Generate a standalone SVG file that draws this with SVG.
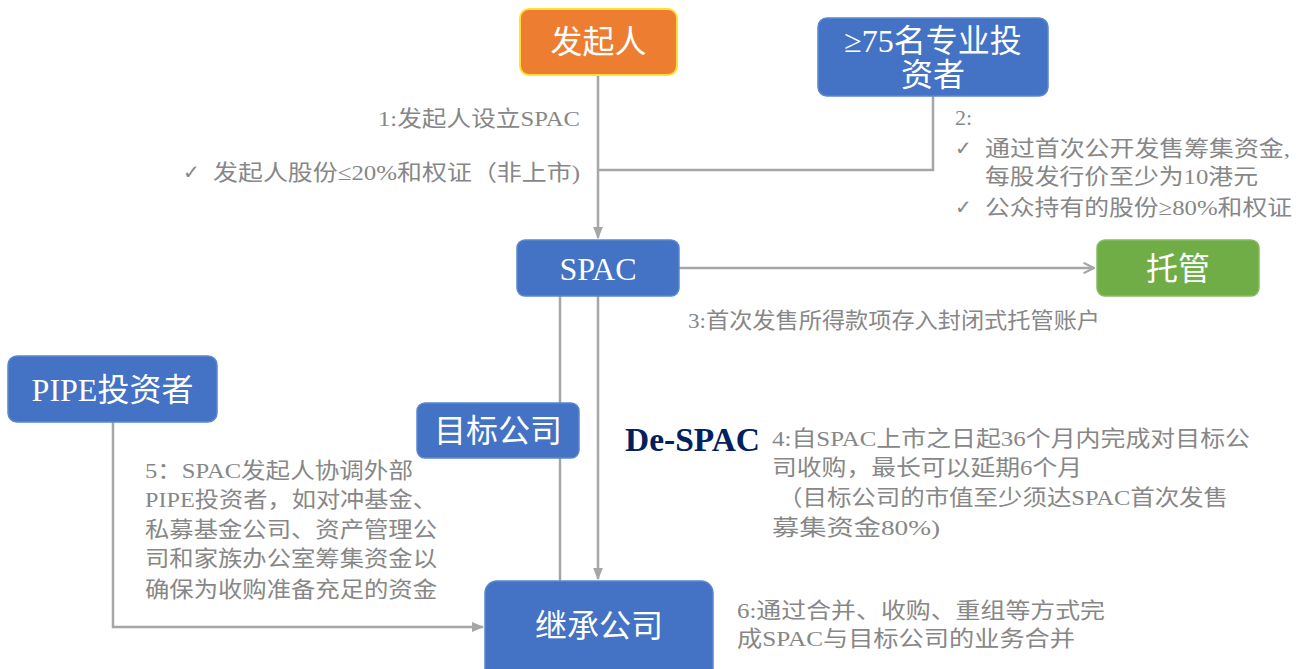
<svg xmlns="http://www.w3.org/2000/svg" width="1305" height="669" viewBox="0 0 1305 669">
<defs>
<marker id="arr" viewBox="0 0 10 10" refX="9" refY="5" markerWidth="5" markerHeight="5" orient="auto-start-reverse" markerUnits="strokeWidth">
<path d="M0,1 L10,5 L0,9 z" fill="#A6A6A6"/>
</marker>
<marker id="arrOpen" viewBox="0 0 12 12" refX="11" refY="6" markerWidth="5" markerHeight="5" orient="auto" markerUnits="strokeWidth">
<path d="M1,1 L11,6 L1,11" fill="none" stroke="#A6A6A6" stroke-width="2"/>
</marker>
<style>
.blue{fill:#4472C4;stroke:#5B86D0;stroke-width:1.5}
.lbl{font-family:"Liberation Serif","Noto Sans CJK SC",serif;font-size:32px;fill:#ffffff;text-anchor:middle}
.t{font-family:"Liberation Serif","Noto Sans CJK SC",serif;font-size:22px;fill:#878787}
.ck{font-family:"DejaVu Sans",sans-serif;font-size:20px;fill:#878787}
.ln{fill:none;stroke:#A6A6A6;stroke-width:2.5}
</style>
</defs>
<rect width="1305" height="669" fill="#ffffff"/>

<g id="connectors">
<path class="ln" d="M598,75 V238" marker-end="url(#arr)"/>
<path class="ln" d="M933,96 V170 H598"/>
<path class="ln" d="M679,268 H1094" marker-end="url(#arrOpen)"/>
<path class="ln" d="M560,296 V403"/>
<path class="ln" d="M560,458 V581"/>
<path class="ln" d="M598,296 V579" marker-end="url(#arr)"/>
<path class="ln" d="M113,422 V627 H483" marker-end="url(#arr)"/>
</g>

<g id="node-sponsor">
<rect x="520" y="9" width="157" height="66" rx="9" fill="#ED7D31" stroke="#FFE033" stroke-width="2"/>
<text class="lbl" x="598.5" y="53">发起人</text>
</g>
<g id="node-investors">
<rect class="blue" x="818" y="18" width="230" height="78" rx="9"/>
<text class="lbl" x="933" y="52">≥75名专业投</text>
<text class="lbl" x="933" y="86">资者</text>
</g>
<g id="node-spac">
<rect class="blue" x="517" y="240" width="162" height="56" rx="8"/>
<text class="lbl" x="598" y="280">SPAC</text>
</g>
<g id="node-custody">
<rect x="1097" y="240" width="162" height="56" rx="8" fill="#70AD47" stroke="#85BC63" stroke-width="1.5"/>
<text class="lbl" x="1178" y="280">托管</text>
</g>
<g id="node-pipe">
<rect class="blue" x="8" y="356" width="209" height="66" rx="9"/>
<text class="lbl" x="112.5" y="401">PIPE投资者</text>
</g>
<g id="node-target">
<rect class="blue" x="417" y="403" width="162" height="55" rx="8"/>
<text class="lbl" x="498" y="442">目标公司</text>
</g>
<g id="node-successor">
<rect class="blue" x="485" y="581" width="228" height="100" rx="12"/>
<text class="lbl" x="599" y="637">继承公司</text>
</g>

<g id="labels">
<text class="t" x="580" y="126" text-anchor="end" textLength="202" lengthAdjust="spacingAndGlyphs">1:发起人设立SPAC</text>
<text class="ck" x="183" y="179">✓</text>
<text class="t" x="213" y="180" textLength="367" lengthAdjust="spacingAndGlyphs">发起人股份≤20%和权证（非上市)</text>

<text class="t" x="955" y="125">2:</text>
<text class="ck" x="955" y="155">✓</text>
<text class="t" x="985" y="156" textLength="305" lengthAdjust="spacingAndGlyphs">通过首次公开发售筹集资金,</text>
<text class="t" x="985" y="184" textLength="273" lengthAdjust="spacingAndGlyphs">每股发行价至少为10港元</text>
<text class="ck" x="955" y="214">✓</text>
<text class="t" x="985" y="215" textLength="307" lengthAdjust="spacingAndGlyphs">公众持有的股份≥80%和权证</text>

<text class="t" x="688" y="328" textLength="412" lengthAdjust="spacingAndGlyphs">3:首次发售所得款项存入封闭式托管账户</text>

<text class="t" x="145" y="478" textLength="268" lengthAdjust="spacingAndGlyphs">5：SPAC发起人协调外部</text>
<text class="t" x="145" y="507" textLength="292" lengthAdjust="spacingAndGlyphs">PIPE投资者，如对冲基金、</text>
<text class="t" x="145" y="537" textLength="292" lengthAdjust="spacingAndGlyphs">私募基金公司、资产管理公</text>
<text class="t" x="145" y="566" textLength="292" lengthAdjust="spacingAndGlyphs">司和家族办公室筹集资金以</text>
<text class="t" x="145" y="597" textLength="292" lengthAdjust="spacingAndGlyphs">确保为收购准备充足的资金</text>

<text x="625" y="451" font-family="Liberation Serif,serif" font-size="33" font-weight="bold" fill="#002060" textLength="135" lengthAdjust="spacingAndGlyphs">De-SPAC</text>
<text class="t" x="772" y="446" textLength="478" lengthAdjust="spacingAndGlyphs">4:自SPAC上市之日起36个月内完成对目标公</text>
<text class="t" x="772" y="475" textLength="310" lengthAdjust="spacingAndGlyphs">司收购，最长可以延期6个月</text>
<text class="t" x="778" y="505" textLength="450" lengthAdjust="spacingAndGlyphs">（目标公司的市值至少须达SPAC首次发售</text>
<text class="t" x="772" y="535" textLength="168" lengthAdjust="spacingAndGlyphs">募集资金80%)</text>

<text class="t" x="737" y="618" textLength="368" lengthAdjust="spacingAndGlyphs">6:通过合并、收购、重组等方式完</text>
<text class="t" x="737" y="646" textLength="338" lengthAdjust="spacingAndGlyphs">成SPAC与目标公司的业务合并</text>
</g>
</svg>
